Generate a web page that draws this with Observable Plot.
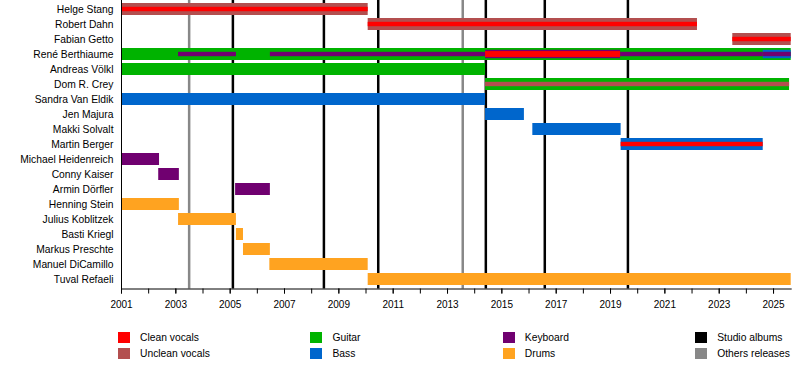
<!DOCTYPE html>
<html>
<head>
<meta charset="utf-8">
<script src="https://cdn.jsdelivr.net/npm/d3@7"></script>
<script src="https://cdn.jsdelivr.net/npm/@observablehq/plot@0.6"></script>
<style>
  body { margin: 0; background: #fff; font-family: "Liberation Sans", Arial, sans-serif; }
  #wrap { position: relative; width: 800px; height: 388px; overflow: hidden; }
  #legend { position: absolute; left: 0; top: 312px; width: 800px; height: 76px; }
  .item { position: absolute; height: 11px; display: flex; align-items: center; font-size: 10.3px; color: #000; white-space: nowrap; }
  .sw { width: 12px; height: 11px; margin-right: 10px; flex: none; }
</style>
</head>
<body>
<div id="wrap"><div id="chart"></div><div id="legend"></div></div>
<script>
// ---- data ----
const members = [
  "Helge Stang", "Robert Dahn", "Fabian Getto", "René Berthiaume", "Andreas Völkl",
  "Dom R. Crey", "Sandra Van Eldik", "Jen Majura", "Makki Solvalt", "Martin Berger",
  "Michael Heidenreich", "Conny Kaiser", "Armin Dörfler", "Henning Stein",
  "Julius Koblitzek", "Basti Kriegl", "Markus Preschte", "Manuel DiCamillo", "Tuval Refaeli"
];
const roles = ["Clean vocals", "Unclean vocals", "Guitar", "Bass", "Keyboard", "Drums"];
const roleColors = ["#ff0000", "#b34f4f", "#00b300", "#0066cc", "#700070", "#ffa320"];
const releaseTypes = ["Studio albums", "Others releases"];
const releaseColors = ["#000000", "#888888"];
const studioAlbums = [2005.10, 2008.45, 2010.45, 2014.41, 2016.58, 2019.64];
const otherReleases = [2003.49, 2013.56];
const endDate = 2025.65;
// [member, role, start, end, kind] ; kind: main role / secondary role layers
const periods = [
  ["Helge Stang", "Unclean vocals", 2001, 2010.08, "main"],
  ["Helge Stang", "Clean vocals", 2001, 2010.08, "line"],
  ["Robert Dahn", "Unclean vocals", 2010.08, 2022.2, "main"],
  ["Robert Dahn", "Clean vocals", 2010.08, 2022.2, "line"],
  ["Fabian Getto", "Unclean vocals", 2023.5, endDate, "main"],
  ["Fabian Getto", "Clean vocals", 2023.5, endDate, "line"],
  ["René Berthiaume", "Guitar", 2001, endDate, "main"],
  ["René Berthiaume", "Keyboard", 2003.1, 2005.23, "line"],
  ["René Berthiaume", "Keyboard", 2006.48, 2014.4, "line"],
  ["René Berthiaume", "Keyboard", 2014.4, 2019.37, "band"],
  ["René Berthiaume", "Clean vocals", 2014.4, 2019.37, "core"],
  ["René Berthiaume", "Keyboard", 2019.37, 2024.62, "line"],
  ["René Berthiaume", "Bass", 2024.62, endDate, "band"],
  ["René Berthiaume", "Keyboard", 2024.62, endDate, "line"],
  ["Andreas Völkl", "Guitar", 2001, 2014.4, "main"],
  ["Dom R. Crey", "Guitar", 2014.4, 2025.59, "main"],
  ["Dom R. Crey", "Unclean vocals", 2014.4, 2025.59, "line"],
  ["Sandra Van Eldik", "Bass", 2001, 2014.4, "main"],
  ["Jen Majura", "Bass", 2014.4, 2015.83, "main"],
  ["Makki Solvalt", "Bass", 2016.14, 2019.39, "main"],
  ["Martin Berger", "Bass", 2019.39, 2024.62, "main"],
  ["Martin Berger", "Clean vocals", 2019.39, 2024.62, "line"],
  ["Michael Heidenreich", "Keyboard", 2001, 2002.4, "main"],
  ["Conny Kaiser", "Keyboard", 2002.37, 2003.13, "main"],
  ["Armin Dörfler", "Keyboard", 2005.2, 2006.48, "main"],
  ["Henning Stein", "Drums", 2001, 2003.13, "main"],
  ["Julius Koblitzek", "Drums", 2003.1, 2005.23, "main"],
  ["Basti Kriegl", "Drums", 2005.23, 2005.49, "main"],
  ["Markus Preschte", "Drums", 2005.49, 2006.48, "main"],
  ["Manuel DiCamillo", "Drums", 2006.46, 2010.08, "main"],
  ["Tuval Refaeli", "Drums", 2010.08, endDate, "main"]
];
const yearTicks = d3.range(2001, 2026);
const labelTicks = d3.range(2001, 2026, 2);

// ---- chart ----
const rows = periods.map(([member, role, start, end, kind]) => ({member, role, start, end, kind}));
const insets = {main: 0, band: 1.8, core: 3.05, line: 3.8};
const layer = kind => Plot.barX(rows.filter(d => d.kind === kind), {
  x1: "start", x2: "end", y: "member", fill: "role",
  insetTop: insets[kind], insetBottom: insets[kind]
});

const chart = Plot.plot({
  width: 800,
  height: 312,
  marginLeft: 121,
  marginRight: 9.3,
  marginTop: 0,
  marginBottom: 23.5,
  x: {domain: [2001, endDate]},
  y: {domain: members, range: [-1.45, 289.5], paddingInner: 0.2, paddingOuter: 0.1, align: 0.5},
  color: {domain: roles, range: roleColors},
  style: {fontFamily: '"Liberation Sans", Arial, sans-serif', color: "#000", background: "#fff", overflow: "visible"},
  marks: [
    Plot.ruleX(studioAlbums, {stroke: releaseColors[0], strokeWidth: 2.5}),
    Plot.ruleX(otherReleases, {stroke: releaseColors[1], strokeWidth: 2.5}),
    layer("main"),
    layer("band"),
    layer("line"),
    layer("core"),
    Plot.frame({anchor: "left", stroke: "#000"}),
    Plot.frame({anchor: "bottom", stroke: "#000"}),
    Plot.axisX(yearTicks, {tickSize: 5, tickFormat: () => "", stroke: "#000"}),
    Plot.axisX(labelTicks, {tickSize: 5, tickPadding: 7, tickFormat: "d", fontSize: 10, label: null, stroke: "#000"}),
    Plot.axisY({tickSize: 0, tickPadding: 8, fontSize: 10.3, label: null})
  ]
});
document.getElementById("chart").appendChild(chart);

// ---- legend ----
const legendItems = roles.map((r, i) => [r, roleColors[i]])
  .concat(releaseTypes.map((r, i) => [r, releaseColors[i]]));
const legend = document.getElementById("legend");
legendItems.forEach(([label, color], i) => {
  const col = Math.floor(i / 2), row = i % 2;
  const el = document.createElement("div");
  el.className = "item";
  el.style.left = (118 + col * 192.4) + "px";
  el.style.top = (20 + row * 16) + "px";
  el.innerHTML = `<span class="sw" style="background:${color}"></span><span>${label}</span>`;
  legend.appendChild(el);
});
</script>
</body>
</html>
